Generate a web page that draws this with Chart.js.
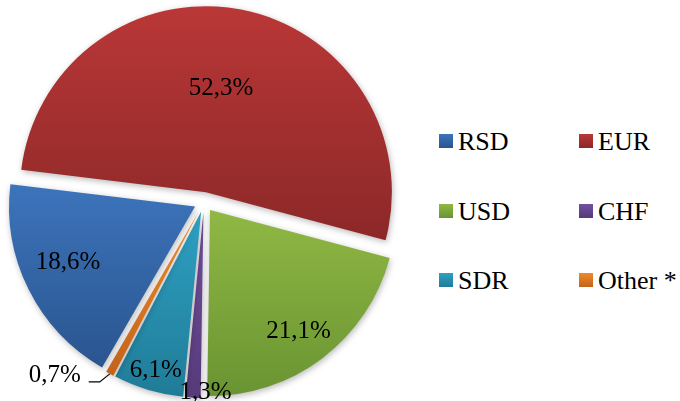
<!DOCTYPE html>
<html>
<head>
<meta charset="utf-8">
<script src="https://cdn.jsdelivr.net/npm/chart.js@4.4.1/dist/chart.umd.min.js"></script>
<style>
  html, body { margin: 0; padding: 0; background: #fff; overflow: hidden; }
  #wrap { position: relative; width: 680px; height: 401px; }
  #pieBox { position: absolute; left: 0; top: 0; width: 420px; height: 401px; }
  .lg-box { position: absolute; width: 14px; height: 14px; }
  .lg-text { position: absolute; font-size: 26px; line-height: 26px; color: #000; white-space: nowrap;
             font-family: 'Liberation Serif', 'Times New Roman', Tinos, 'Nimbus Roman', 'DejaVu Serif', serif; }
</style>
</head>
<body>
<div id="wrap">
  <div id="pieBox"><canvas id="pie"></canvas></div>
  <div id="legend"></div>
</div>
<script>
// currency shares, %
const labels = ['RSD', 'EUR', 'USD', 'CHF', 'SDR', 'Other *'];
const values = [18.6, 52.3, 21.1, 1.3, 6.1, 0.7];
const valueText = ['18,6%', '52,3%', '21,1%', '1,3%', '6,1%', '0,7%'];

// gradient ends for each slice (top, bottom)
const LIGHT = ['#3c74bb', '#ba3737', '#8fb844', '#7450a0', '#2fa0c2', '#ef8a2a'];
const DARK  = ['#2a558f', '#8c2828', '#6a9432', '#553a78', '#1f7c98', '#c2631b'];

const ROTATION = 210;   // start of first slice, degrees clockwise from top
const EXPLODE = 10;     // px every slice is pulled out
const LABEL_R = [0.74, 0.57, 0.79, 0.96, 0.86, null];  // null = outside with leader
const LABEL_NUDGE = [[-4, -6], [-5, 0], [0, 4], [12, 2], [0, 5], [0, 0]];
const FONT = "25px 'Liberation Serif', 'Times New Roman', Tinos, 'Nimbus Roman', 'DejaVu Serif', serif";

const total = values.reduce((s, v) => s + v, 0);

function sliceGradient(c) {
  const i = c.dataIndex;
  const chart = c.chart;
  const area = chart.chartArea;
  if (!area || i === undefined) return DARK[i] || '#888';
  const cx = (area.left + area.right) / 2;
  const cy = (area.top + area.bottom) / 2;
  const r = Math.min(area.right - area.left, area.bottom - area.top) / 2;
  const before = values.slice(0, i).reduce((s, v) => s + v, 0);
  const a0 = ROTATION + before / total * 360;
  const a1 = a0 + values[i] / total * 360;
  const rad = d => d * Math.PI / 180;
  const ys = [cy, cy - r * Math.cos(rad(a0)), cy - r * Math.cos(rad(a1))];
  for (let k = Math.ceil(a0 / 180); k * 180 <= a1; k++) {
    ys.push(k % 2 === 0 ? cy - r : cy + r);
  }
  const shift = -Math.cos(rad((a0 + a1) / 2)) * EXPLODE;
  const top = Math.min(...ys) + shift;
  const bottom = Math.max(...ys) + shift;
  const g = chart.ctx.createLinearGradient(0, top, 0, bottom);
  g.addColorStop(0, LIGHT[i]);
  g.addColorStop(1, DARK[i]);
  return g;
}

const piePlugin = {
  id: 'pieExtras',
  afterDatasetsUpdate(chart) {
    chart.getDatasetMeta(0).data.forEach(arc => {
      const mid = (arc.startAngle + arc.endAngle) / 2;
      arc.x += Math.cos(mid) * EXPLODE;
      arc.y += Math.sin(mid) * EXPLODE;
    });
  },
  beforeDatasetsDraw(chart) {
    const ctx = chart.ctx;
    ctx.save();
    ctx.shadowColor = 'rgba(0,0,0,0.28)';
    ctx.shadowBlur = 6;
    ctx.shadowOffsetX = 1;
    ctx.shadowOffsetY = 2;
  },
  afterDatasetsDraw(chart) {
    const ctx = chart.ctx;
    ctx.restore();
    ctx.save();
    ctx.font = FONT;
    ctx.fillStyle = '#000';
    ctx.textBaseline = 'middle';
    chart.getDatasetMeta(0).data.forEach((arc, i) => {
      const mid = (arc.startAngle + arc.endAngle) / 2;
      const f = LABEL_R[i];
      const [nx, ny] = LABEL_NUDGE[i];
      if (f !== null) {
        ctx.textAlign = 'center';
        ctx.fillText(valueText[i], arc.x + Math.cos(mid) * arc.outerRadius * f + nx,
                     arc.y + Math.sin(mid) * arc.outerRadius * f + ny);
      } else {
        const ex = arc.x + Math.cos(mid) * arc.outerRadius;
        const ey = arc.y + Math.sin(mid) * arc.outerRadius;
        const bx = ex - 10, by = ey + 8;
        const lx = bx - 11;
        ctx.strokeStyle = '#000';
        ctx.lineWidth = 1.2;
        ctx.beginPath();
        ctx.moveTo(ex, ey);
        ctx.lineTo(bx, by);
        ctx.lineTo(lx, by);
        ctx.stroke();
        ctx.textAlign = 'right';
        ctx.fillText(valueText[i], lx - 8 + nx, by - 6 + ny);
      }
    });
    ctx.restore();
  }
};

new Chart(document.getElementById('pie'), {
  type: 'pie',
  data: {
    labels,
    datasets: [{
      data: values,
      backgroundColor: sliceGradient,
      borderWidth: 0
    }]
  },
  options: {
    responsive: true,
    maintainAspectRatio: false,
    animation: false,
    events: [],
    rotation: ROTATION,
    layout: { padding: { left: 18, top: 16, right: 30, bottom: 13 } },
    plugins: { legend: { display: false }, tooltip: { enabled: false } }
  },
  plugins: [piePlugin]
});

// legend, two columns
const legend = document.getElementById('legend');
labels.forEach((name, i) => {
  const col = i % 2, row = Math.floor(i / 2);
  const left = 439 + col * 140;
  const base = 151 + row * 69.5;
  const box = document.createElement('div');
  box.className = 'lg-box';
  box.style.left = left + 'px';
  box.style.top = (base - 17) + 'px';
  box.style.background = `linear-gradient(${LIGHT[i]}, ${DARK[i]})`;
  const txt = document.createElement('div');
  txt.className = 'lg-text';
  txt.style.left = (left + 19) + 'px';
  txt.style.top = (base - 22) + 'px';
  txt.textContent = name;
  legend.appendChild(box);
  legend.appendChild(txt);
});
</script>
</body>
</html>
